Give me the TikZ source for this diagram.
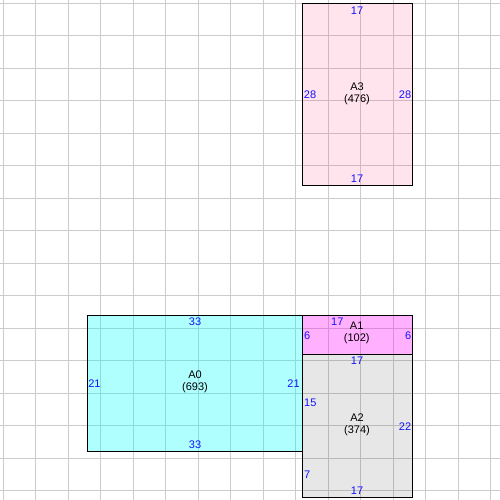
\documentclass[tikz,border=0pt]{standalone}
\usepackage{fontspec}
\setmainfont{Liberation Sans}
\definecolor{gridc}{RGB}{204,204,204}
\definecolor{numc}{RGB}{20,20,255}
\definecolor{cA0}{RGB}{0,255,255}
\definecolor{cA1}{RGB}{255,0,255}
\definecolor{cA2}{RGB}{25,25,25}
\definecolor{cA3}{RGB}{255,30,113}
\tikzset{
  room/.style={draw=black, line width=1pt},
  num/.style={text=numc, inner sep=0pt, font=\fontsize{11}{12}\selectfont},
  title/.style={align=center, inner sep=0pt, font=\fontsize{11}{12}\selectfont},
  gridline/.style={draw=gridc, line width=1pt}
}
\begin{document}
\begin{tikzpicture}[x=1pt,y=-1pt]
\useasboundingbox (0,0) rectangle (500,500);
\fill[white] (0,0) rectangle (500,500);
% grid
\foreach \k in {0,...,15}{
  \draw[gridline] ({3.3+32.5*\k},0) -- ({3.3+32.5*\k},500);
  \draw[gridline] (0,{3.3+32.5*\k}) -- (500,{3.3+32.5*\k});
}
% rooms
\coordinate (a0tl) at (87.3,315.3);  \coordinate (a0br) at (302.3,451);
\coordinate (a1tl) at (302.3,315.3); \coordinate (a1br) at (412.8,354.3);
\coordinate (a2tl) at (302.3,354.3); \coordinate (a2br) at (412.8,497.3);
\coordinate (a3tl) at (302.3,3.3);   \coordinate (a3br) at (412.8,185.3);
\fill[cA0, fill opacity=0.31] (a0tl) rectangle (a0br);
\fill[cA1, fill opacity=0.31] (a1tl) rectangle (a1br);
\fill[cA2, fill opacity=0.1] (a2tl) rectangle (a2br);
\fill[cA3, fill opacity=0.12] (a3tl) rectangle (a3br);
\draw[room] (a0tl) rectangle (a0br);
\draw[room] (a1tl) rectangle (a1br);
\draw[room] (a2tl) rectangle (a2br);
\draw[room] (a3tl) rectangle (a3br);
% titles
\node[title] (tA0) at (195,382) {A0\\(693)};
\node[title] (tA1) at (356.7,333) {A1\\(102)};
\node[title] (tA2) at (357,424.5) {A2\\(374)};
\node[title] (tA3) at (357,93.3) {A3\\(476)};
% A3 dims
\node[num] (a3t) at (357,10.3) {17};
\node[num] (a3b) at (357,179) {17};
\node[num] (a3l) at (310,94.3) {28};
\node[num] (a3r) at (405,94.3) {28};
% A0 dims
\node[num] (a0t) at (195,321.7) {33};
\node[num] (a0b) at (195,444.3) {33};
\node[num] (a0l) at (94.5,384) {21};
\node[num] (a0r) at (293.5,384) {21};
% A1 dims
\node[num] (a1t) at (337.3,321.7) {17};
\node[num] (a1l) at (307.3,335.7) {6};
\node[num] (a1r) at (408.3,335.7) {6};
% A2 dims
\node[num] (a2t) at (357,361) {17};
\node[num] (a2b) at (357,490.7) {17};
\node[num] (a2l1) at (310.3,403) {15};
\node[num] (a2l2) at (307.3,475) {7};
\node[num] (a2r) at (405,426.7) {22};
\end{tikzpicture}
\end{document}
